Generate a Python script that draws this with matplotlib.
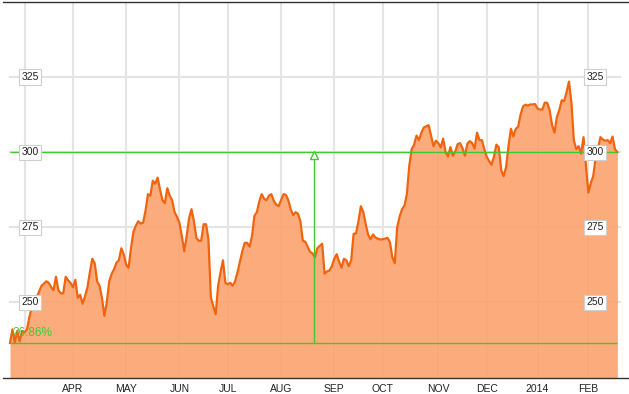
import numpy as np
import pandas as pd
import matplotlib
matplotlib.use('Agg')
import matplotlib.pyplot as plt
from matplotlib.transforms import offset_copy

# closing prices, one per trading day (21 Feb 2013 - 20 Feb 2014)
prices = [
    236.48, 241.0, 236.5, 240.5, 237.0, 240.5, 240.0, 241.0, 245.0, 248.5,
    250.5, 251.5, 253.5, 255.5, 256.2, 257.0, 256.5, 255.0, 254.0, 258.5,
    254.0, 253.0, 253.0, 258.5, 257.3, 256.5, 255.0, 257.5, 251.5, 252.5,
    249.5, 252.0, 255.0, 260.0, 264.5, 263.0, 257.0, 255.5, 251.5, 245.5,
    250.0, 257.0, 259.5, 261.0, 263.2, 264.0, 268.0, 266.0, 262.5, 261.5,
    268.0, 273.5, 275.5, 277.0, 276.2, 276.5, 280.5, 286.0, 285.5, 290.5,
    289.5, 291.5, 287.5, 284.0, 283.0, 288.0, 285.5, 284.0, 280.0, 278.5,
    276.5, 272.0, 267.0, 272.0, 278.0, 281.0, 277.0, 271.5, 270.5, 270.5,
    276.0, 276.0, 271.0, 251.5, 248.8, 246.0, 255.5, 260.0, 264.0, 256.5,
    256.0, 256.5, 255.5, 257.0, 260.0, 263.5, 267.0, 269.8, 269.8, 268.5,
    272.0, 278.8, 280.0, 283.5, 286.0, 284.5, 284.0, 285.5, 286.0, 283.8,
    282.5, 282.0, 284.0, 286.0, 285.8, 284.0, 281.0, 279.0, 280.0, 279.5,
    277.0, 270.5, 270.2, 268.5, 266.8, 266.3, 265.0, 268.0, 268.8, 269.5,
    259.5, 260.3, 260.6, 262.0, 264.5, 266.0, 263.5, 261.5, 264.5, 264.0,
    262.0, 264.0, 272.8, 273.0, 277.0, 282.0, 280.0, 276.0, 272.5, 271.0,
    272.6, 271.6, 271.2, 270.9, 271.0, 271.2, 271.5, 270.0, 265.0, 263.0,
    275.0, 278.5, 281.0, 282.2, 286.0, 295.5, 301.0, 302.5, 305.5, 304.0,
    306.5, 308.2, 308.6, 309.0, 305.5, 302.0, 303.8, 303.0, 301.6, 304.5,
    300.0, 298.5, 301.7, 298.8, 300.2, 302.7, 303.0, 301.3, 298.8, 302.8,
    303.7, 303.0, 301.2, 306.5, 304.0, 304.0, 301.0, 298.5, 297.0, 295.8,
    298.5, 302.5, 301.6, 294.0, 292.0, 295.0, 302.0, 307.8, 305.2, 307.7,
    308.5, 312.5, 315.2, 315.8, 315.5, 315.9, 315.9, 316.0, 314.5, 314.2,
    314.2, 316.5, 316.4, 314.0, 309.0, 306.5, 311.8, 314.0, 317.3, 317.0,
    320.0, 323.5, 316.5, 304.0, 301.0, 302.0, 299.5, 305.0, 295.5, 286.5,
    289.7, 292.0, 298.0, 301.3, 305.0, 304.2, 303.8, 304.0, 303.0, 305.2,
    301.0, 300.0,
]

holidays = ['2013-03-29', '2013-05-27', '2013-07-04', '2013-09-02', '2013-11-28',
            '2013-12-25', '2014-01-01', '2014-01-20', '2014-02-17']
month_labels = ['', 'APR', 'MAY', 'JUN', 'JUL', 'AUG', 'SEP', 'OCT', 'NOV', 'DEC', '2014', 'FEB']
price_levels = [250, 275, 300, 325]

dates = pd.bdate_range('2013-02-21', '2014-02-20', freq='C', holidays=holidays)
x = np.arange(len(prices))
month_starts = [i for i in range(1, len(dates)) if dates[i].month != dates[i - 1].month]

plt.rcParams['font.family'] = ['Liberation Sans', 'DejaVu Sans']

line_col = '#f06410'
fill_col = '#fca36e'
green = '#3fc92c'
grid_col = '#e4e4e4'

fig = plt.figure(figsize=(6.29, 3.94), dpi=100)
ax = fig.add_axes([3 / 629, 16 / 394, 626 / 629, 376 / 394])
ax.set_xlim(-2.9, 255.8)
ax.set_ylim(224.8, 350.0)

# grid
ax.set_axisbelow(True)
ax.set_xticks(month_starts, month_labels)
ax.grid(axis='x', color=grid_col, lw=1.5)
for v in price_levels:
    ax.axhline(v, xmin=0.011, xmax=0.986, color=grid_col, lw=1.5, zorder=0)

# price area
ax.fill_between(x, prices, 200, color=fill_col, alpha=0.9, lw=0, zorder=1)
ax.plot(x, prices, color=line_col, lw=1.6, zorder=2, solid_joinstyle='round')

# change markers
start, end = prices[0], prices[-1]
mid = x[-1] / 2
ax.hlines([start, end], x[0], x[-1], color=green, lw=1, zorder=3)
ax.vlines(mid, start, end, color=green, lw=1, zorder=3)
ax.plot([mid], [end], marker='^', ms=6, mfc='white', mec=green, mew=1, zorder=4,
        transform=offset_copy(ax.transData, fig=fig, y=-3, units='dots'))
ax.text(x[0] + 0.8, start + 1.2, '%.2f%%' % ((end / start - 1) * 100),
        color=green, fontsize=8.5, va='bottom', ha='left', zorder=5)

# price labels on both sides
for v in price_levels:
    for xa in (0.043, 0.946):
        ax.text(xa, v, str(v), transform=ax.get_yaxis_transform(), ha='center', va='center',
                fontsize=7.5, color='#222222', zorder=6,
                bbox=dict(boxstyle='square,pad=0.25', fc='white', ec='#cfcfcf', lw=0.8))

ax.set_yticks([])
ax.tick_params(axis='x', length=0, pad=4, labelsize=7.5, colors='#222222')
for s in ('left', 'right'):
    ax.spines[s].set_visible(False)
for s in ('top', 'bottom'):
    ax.spines[s].set_color('#333333')
    ax.spines[s].set_linewidth(1)

fig.savefig('out.png', dpi=100)
